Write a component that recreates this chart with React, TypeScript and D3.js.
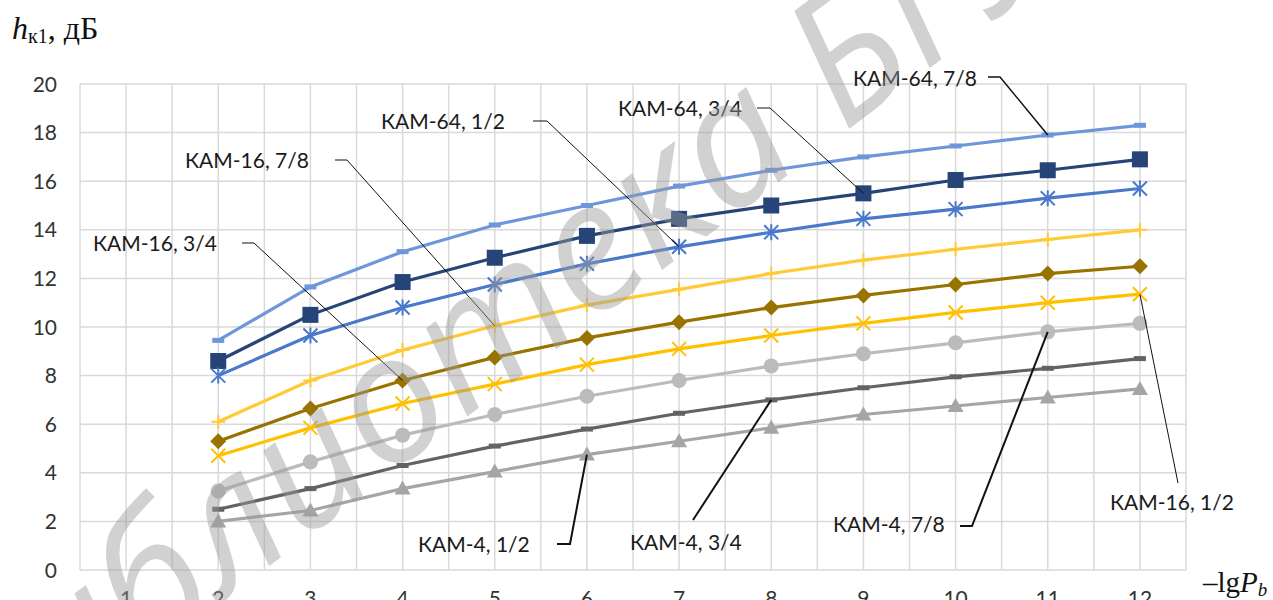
import React from "react";
import * as d3 from "d3";

const categories = [1, 2, 3, 4, 5, 6, 7, 8, 9, 10, 11, 12];
const xValues = [2, 3, 4, 5, 6, 7, 8, 9, 10, 11, 12];
const yTicks = [0, 2, 4, 6, 8, 10, 12, 14, 16, 18, 20];

const kam64_78 = [9.45, 11.65, 13.1, 14.2, 15.0, 15.8, 16.45, 17.0, 17.45, 17.9, 18.3];
const kam64_34 = [8.6, 10.5, 11.85, 12.85, 13.75, 14.45, 15.0, 15.5, 16.05, 16.45, 16.9];
const kam64_12 = [8.0, 9.65, 10.8, 11.75, 12.6, 13.3, 13.9, 14.45, 14.85, 15.3, 15.7];
const kam16_78 = [6.1, 7.8, 9.05, 10.05, 10.9, 11.55, 12.2, 12.75, 13.2, 13.6, 14.0];
const kam16_34 = [5.3, 6.65, 7.8, 8.75, 9.55, 10.2, 10.8, 11.3, 11.75, 12.2, 12.5];
const kam16_12 = [4.7, 5.85, 6.85, 7.65, 8.45, 9.1, 9.65, 10.15, 10.6, 11.0, 11.35];
const kam4_78 = [3.25, 4.45, 5.55, 6.4, 7.15, 7.8, 8.4, 8.9, 9.35, 9.8, 10.15];
const kam4_34 = [2.5, 3.35, 4.3, 5.1, 5.8, 6.45, 7.0, 7.5, 7.95, 8.3, 8.7];
const kam4_12 = [2.0, 2.45, 3.35, 4.05, 4.75, 5.3, 5.85, 6.4, 6.75, 7.1, 7.45];

const seriesNames = [
  "КАМ-64, 7/8", "КАМ-64, 3/4", "КАМ-64, 1/2",
  "КАМ-16, 7/8", "КАМ-16, 3/4", "КАМ-16, 1/2",
  "КАМ-4, 7/8", "КАМ-4, 3/4", "КАМ-4, 1/2",
];
const seriesValues = [kam64_78, kam64_34, kam64_12, kam16_78, kam16_34, kam16_12, kam4_78, kam4_34, kam4_12];

// styles (not data)
const seriesStyle = [
  { color: "#6E96DA", marker: "dash" },
  { color: "#264478", marker: "square" },
  { color: "#4A78CB", marker: "asterisk" },
  { color: "#FFCA35", marker: "plus" },
  { color: "#997300", marker: "diamond" },
  { color: "#FFC000", marker: "x" },
  { color: "#BBBBBB", marker: "circle" },
  { color: "#636363", marker: "dash" },
  { color: "#A5A5A5", marker: "triangle" },
];

// callout layout: series index, category, text position, leader path start
const callouts = [
  { s: 0, cat: 11, tx: 853, ty: 78, lead: [[988, 77], [1000, 77]], w: 1.5 },
  { s: 1, cat: 9, tx: 618, ty: 108, lead: [[757, 108], [770, 108]], w: 1 },
  { s: 2, cat: 7, tx: 381, ty: 121, lead: [[533, 121], [547, 121]], w: 1 },
  { s: 3, cat: 5, tx: 185, ty: 160, lead: [[335, 160], [347, 160]], w: 1 },
  { s: 4, cat: 4, tx: 93, ty: 243, lead: [[242, 243], [254, 243]], w: 1 },
  { s: 8, cat: 6, tx: 418, ty: 544, lead: [[557, 544], [570, 544]], w: 2 },
  { s: 7, cat: 8, tx: 630, ty: 542, lead: [[693, 520]], w: 2 },
  { s: 6, cat: 11, tx: 833, ty: 524, lead: [[960, 526], [972, 526]], w: 2 },
  { s: 5, cat: 12, tx: 1110, ty: 502, lead: [[1178, 483]], w: 1 },
];

const W = 1273, H = 600;
const x = d3.scaleLinear().domain([0.5, 12.5]).range([80, 1186]);
const y = d3.scaleLinear().domain([0, 20]).range([570, 84]);

function Marker({ type, cx, cy, color }: { type: string; cx: number; cy: number; color: string }) {
  switch (type) {
    case "square":
      return <rect x={cx - 8} y={cy - 8} width={16} height={16} fill={color} />;
    case "diamond":
      return <path d={`M${cx},${cy - 8}L${cx + 8},${cy}L${cx},${cy + 8}L${cx - 8},${cy}Z`} fill={color} />;
    case "circle":
      return <circle cx={cx} cy={cy} r={7.5} fill={color} />;
    case "triangle":
      return <path d={`M${cx},${cy - 8}L${cx + 8},${cy + 6}L${cx - 8},${cy + 6}Z`} fill={color} />;
    case "plus":
      return <path d={`M${cx - 7},${cy}H${cx + 7}M${cx},${cy - 7}V${cy + 7}`} stroke={color} strokeWidth={2} />;
    case "x":
      return <path d={`M${cx - 7},${cy - 7}L${cx + 7},${cy + 7}M${cx - 7},${cy + 7}L${cx + 7},${cy - 7}`} stroke={color} strokeWidth={2} />;
    case "asterisk":
      return (
        <path
          d={`M${cx - 7},${cy - 7}L${cx + 7},${cy + 7}M${cx - 7},${cy + 7}L${cx + 7},${cy - 7}M${cx},${cy - 8}V${cy + 8}`}
          stroke={color}
          strokeWidth={2}
        />
      );
    case "dash":
      return <rect x={cx - 6} y={cy - 2.5} width={12} height={5} fill={color} />;
    default:
      return null;
  }
}

export default function App() {
  const line = d3
    .line<number>()
    .x((_, i) => x(xValues[i]))
    .y((d) => y(d));
  const vGrid = d3.range(0.5, 12.51, 0.5);
  const font = "Lato, 'Open Sans', sans-serif";
  const serif = "'Liberation Serif', 'Times New Roman', serif";
  return (
    <svg width={W} height={H} style={{ position: "absolute", left: 0, top: 0, background: "#fff" }}>
      <rect width={W} height={H} fill="#fff" />
      {/* grid */}
      {vGrid.map((g) => (
        <line key={"v" + g} x1={x(g)} x2={x(g)} y1={y(20)} y2={y(0)} stroke="#D9D9D9" strokeWidth={1.5} />
      ))}
      {yTicks.map((t) => (
        <line key={"h" + t} x1={x(0.5)} x2={x(12.5)} y1={y(t)} y2={y(t)} stroke="#D9D9D9" strokeWidth={1.5} />
      ))}
      {/* y tick labels */}
      {yTicks.map((t) => (
        <text key={"yt" + t} x={57} y={y(t) + 7.5} textAnchor="end" fontFamily={font} fontSize={21} fill="#333">
          {t}
        </text>
      ))}
      {/* x tick labels */}
      {categories.map((c) => (
        <text key={"xt" + c} x={x(c)} y={606} textAnchor="middle" fontFamily={font} fontSize={21} fill="#333">
          {c}
        </text>
      ))}
      {/* series */}
      {seriesValues.map((vals, si) => (
        <g key={"s" + si}>
          <path d={line(vals) || ""} fill="none" stroke={seriesStyle[si].color} strokeWidth={3.2} />
          {vals.map((v, i) => (
            <Marker key={i} type={seriesStyle[si].marker} cx={x(xValues[i])} cy={y(v)} color={seriesStyle[si].color} />
          ))}
        </g>
      ))}
      {/* callouts */}
      {callouts.map((c, k) => {
        const px = x(c.cat);
        const py = y(seriesValues[c.s][xValues.indexOf(c.cat)]);
        const pts = [...c.lead, [px, py]];
        return (
          <g key={"c" + k}>
            <text x={c.tx} y={c.ty + 7.5} fontFamily={font} fontSize={21} fill="#1a1a1a">
              {seriesNames[c.s]}
            </text>
            <polyline points={pts.map((p) => p.join(",")).join(" ")} fill="none" stroke="#111" strokeWidth={c.w} />
          </g>
        );
      })}
      {/* axis titles */}
      <text x={12} y={39} fontFamily={serif} fontSize={32} fill="#111">
        <tspan fontStyle="italic">h</tspan>
        <tspan fontSize={20} dy={4}>к1</tspan>
        <tspan dy={-4}>, дБ</tspan>
      </text>
      <text x={1203} y={592} fontFamily={serif} fontSize={29} fill="#111">
        <tspan>–lg</tspan>
        <tspan fontStyle="italic">P</tspan>
        <tspan fontStyle="italic" fontSize={19} dy={4}>b</tspan>
      </text>
      {/* watermark */}
      <text
        x={-15}
        y={780}
        transform="rotate(-37, -15, 780)"
        fontFamily="'Open Sans', sans-serif"
        fontStyle="italic"
        fontSize={178}
        fill="#9a9a9a"
        opacity={0.45}
      >
        Библиотека БГУИР
      </text>
    </svg>
  );
}
